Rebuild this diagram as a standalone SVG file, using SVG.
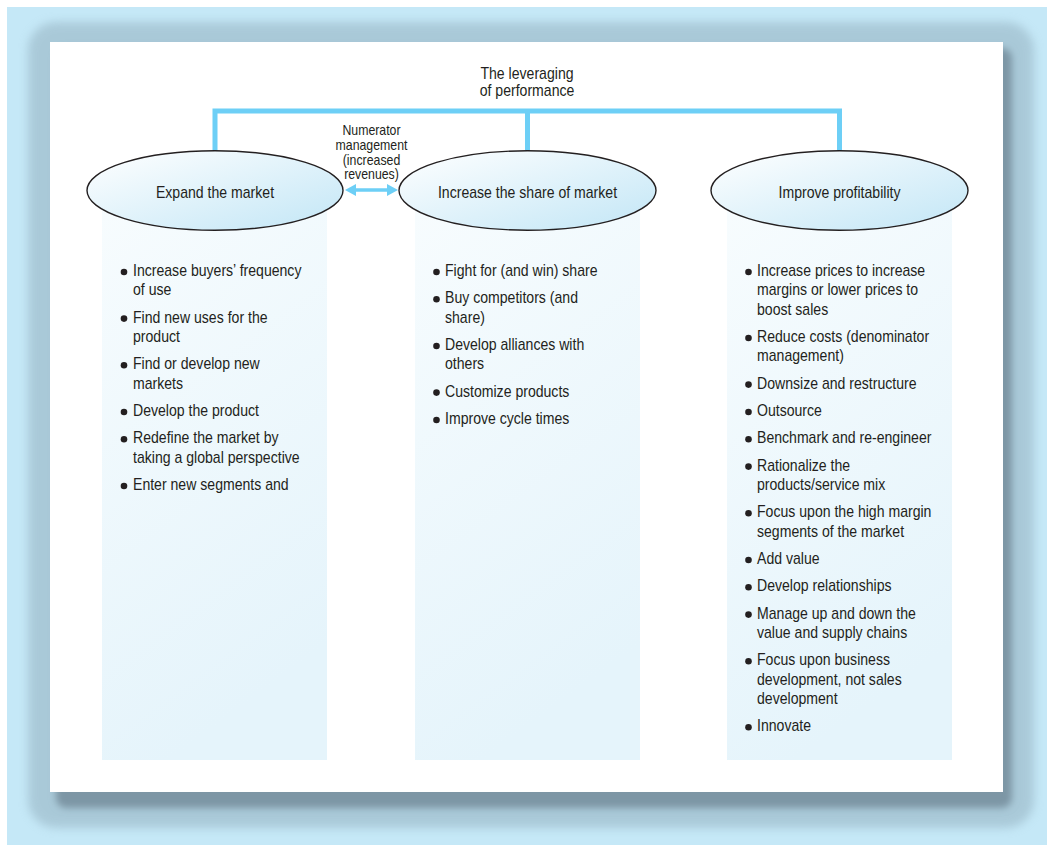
<svg xmlns="http://www.w3.org/2000/svg" width="1047" height="846" viewBox="0 0 1047 846">
<style>
text{font-family:"Liberation Sans",Arial,sans-serif;fill:#231f20;}
.t{font-size:16px;}
.c{text-anchor:middle;}
.s{font-size:14px;}
.node ellipse{fill:url(#eg);stroke:#231f20;stroke-width:1.4;}
.col{fill:url(#cg);}
.b{fill:#231f20;}
.conn{fill:none;stroke:#6dcff6;stroke-width:5;}
</style>
<defs>
<linearGradient id="eg" x1="0" y1="0" x2="1" y2="1">
<stop offset="0" stop-color="#ffffff"/>
<stop offset="1" stop-color="#c2e6f6"/>
</linearGradient>
<linearGradient id="cg" x1="0" y1="0" x2="0.3" y2="1">
<stop offset="0" stop-color="#f7fcfe"/>
<stop offset="1" stop-color="#e5f4fb"/>
</linearGradient>
<filter id="sh" x="-0.1" y="-0.1" width="1.2" height="1.2">
<feGaussianBlur stdDeviation="5"/>
</filter>
<filter id="sh2" x="-0.1" y="-0.1" width="1.2" height="1.2">
<feGaussianBlur stdDeviation="3.5"/>
</filter>
</defs>
<rect x="0" y="0" width="1047" height="846" fill="#ffffff"/>
<rect x="7" y="7" width="1040" height="838" fill="#c5e8f7"/>
<rect x="28" y="22" width="1006" height="806" rx="28" fill="#98b6c5" opacity="0.6" filter="url(#sh)"/>
<rect x="56" y="48" width="956" height="760" rx="10" fill="#7d96a5" filter="url(#sh2)"/>
<rect x="50" y="42" width="953" height="750" fill="#ffffff"/>

<rect class="col" x="102" y="210" width="225" height="550"/>
<rect class="col" x="415" y="210" width="225" height="550"/>
<rect class="col" x="727" y="210" width="225" height="550"/>

<g id="title">
<text class="t c" transform="translate(527,79) scale(0.88,1)">The leveraging</text>
<text class="t c" transform="translate(527,96) scale(0.88,1)">of performance</text>
</g>

<g id="connectors">
<path class="conn" d="M215,151 V111 H839.5 V151 M527.5,111 V151"/>
<path fill="#6dcff6" d="M345,190 L356,184 L356,188.3 L387,188.3 L387,184 L398,190 L387,196 L387,191.7 L356,191.7 L356,196 Z"/>
<g id="numerator-label">
<text class="s c" transform="translate(371.5,135) scale(0.88,1)">Numerator</text>
<text class="s c" transform="translate(371.5,150) scale(0.88,1)">management</text>
<text class="s c" transform="translate(371.5,164.5) scale(0.88,1)">(increased</text>
<text class="s c" transform="translate(371.5,179) scale(0.88,1)">revenues)</text>
</g>
</g>

<g id="node-expand" class="node">
<ellipse cx="215" cy="190.5" rx="128" ry="39.7"/>
<text class="t c" transform="translate(215,197.5) scale(0.88,1)">Expand the market</text>
</g>
<g id="node-share" class="node">
<ellipse cx="527.5" cy="190.5" rx="128.5" ry="39.7"/>
<text class="t c" transform="translate(527.5,197.5) scale(0.88,1)">Increase the share of market</text>
</g>
<g id="node-profit" class="node">
<ellipse cx="839.5" cy="190.5" rx="128.5" ry="39.7"/>
<text class="t c" transform="translate(839.5,197.5) scale(0.88,1)">Improve profitability</text>
</g>

<g id="list-expand">
<circle class="b" cx="124" cy="272" r="3.3"/>
<text class="t" transform="translate(133,276) scale(0.88,1)">Increase buyers’ frequency</text>
<text class="t" transform="translate(133,295.3) scale(0.88,1)">of use</text>
<circle class="b" cx="124" cy="318.6" r="3.3"/>
<text class="t" transform="translate(133,322.6) scale(0.88,1)">Find new uses for the</text>
<text class="t" transform="translate(133,342) scale(0.88,1)">product</text>
<circle class="b" cx="124" cy="365.3" r="3.3"/>
<text class="t" transform="translate(133,369.3) scale(0.88,1)">Find or develop new</text>
<text class="t" transform="translate(133,388.6) scale(0.88,1)">markets</text>
<circle class="b" cx="124" cy="412" r="3.3"/>
<text class="t" transform="translate(133,416) scale(0.88,1)">Develop the product</text>
<circle class="b" cx="124" cy="439.3" r="3.3"/>
<text class="t" transform="translate(133,443.3) scale(0.88,1)">Redefine the market by</text>
<text class="t" transform="translate(133,462.6) scale(0.88,1)">taking a global perspective</text>
<circle class="b" cx="124" cy="486" r="3.3"/>
<text class="t" transform="translate(133,490) scale(0.88,1)">Enter new segments and</text>
</g>

<g id="list-share">
<circle class="b" cx="436.5" cy="272" r="3.3"/>
<text class="t" transform="translate(445,276) scale(0.88,1)">Fight for (and win) share</text>
<circle class="b" cx="436.5" cy="299.3" r="3.3"/>
<text class="t" transform="translate(445,303.3) scale(0.88,1)">Buy competitors (and</text>
<text class="t" transform="translate(445,322.6) scale(0.88,1)">share)</text>
<circle class="b" cx="436.5" cy="346" r="3.3"/>
<text class="t" transform="translate(445,350) scale(0.88,1)">Develop alliances with</text>
<text class="t" transform="translate(445,369.3) scale(0.88,1)">others</text>
<circle class="b" cx="436.5" cy="392.6" r="3.3"/>
<text class="t" transform="translate(445,396.6) scale(0.88,1)">Customize products</text>
<circle class="b" cx="436.5" cy="420" r="3.3"/>
<text class="t" transform="translate(445,424) scale(0.88,1)">Improve cycle times</text>
</g>

<g id="list-profit">
<circle class="b" cx="748.5" cy="272" r="3.3"/>
<text class="t" transform="translate(757,276) scale(0.88,1)">Increase prices to increase</text>
<text class="t" transform="translate(757,295.3) scale(0.88,1)">margins or lower prices to</text>
<text class="t" transform="translate(757,314.6) scale(0.88,1)">boost sales</text>
<circle class="b" cx="748.5" cy="338" r="3.3"/>
<text class="t" transform="translate(757,342) scale(0.88,1)">Reduce costs (denominator</text>
<text class="t" transform="translate(757,361.3) scale(0.88,1)">management)</text>
<circle class="b" cx="748.5" cy="384.6" r="3.3"/>
<text class="t" transform="translate(757,388.6) scale(0.88,1)">Downsize and restructure</text>
<circle class="b" cx="748.5" cy="412" r="3.3"/>
<text class="t" transform="translate(757,416) scale(0.88,1)">Outsource</text>
<circle class="b" cx="748.5" cy="439.3" r="3.3"/>
<text class="t" transform="translate(757,443.3) scale(0.88,1)">Benchmark and re-engineer</text>
<circle class="b" cx="748.5" cy="466.6" r="3.3"/>
<text class="t" transform="translate(757,470.6) scale(0.88,1)">Rationalize the</text>
<text class="t" transform="translate(757,490) scale(0.88,1)">products/service mix</text>
<circle class="b" cx="748.5" cy="513.3" r="3.3"/>
<text class="t" transform="translate(757,517.3) scale(0.88,1)">Focus upon the high margin</text>
<text class="t" transform="translate(757,536.6) scale(0.88,1)">segments of the market</text>
<circle class="b" cx="748.5" cy="560" r="3.3"/>
<text class="t" transform="translate(757,564) scale(0.88,1)">Add value</text>
<circle class="b" cx="748.5" cy="587.3" r="3.3"/>
<text class="t" transform="translate(757,591.3) scale(0.88,1)">Develop relationships</text>
<circle class="b" cx="748.5" cy="614.6" r="3.3"/>
<text class="t" transform="translate(757,618.6) scale(0.88,1)">Manage up and down the</text>
<text class="t" transform="translate(757,638) scale(0.88,1)">value and supply chains</text>
<circle class="b" cx="748.5" cy="661.3" r="3.3"/>
<text class="t" transform="translate(757,665.3) scale(0.88,1)">Focus upon business</text>
<text class="t" transform="translate(757,684.6) scale(0.88,1)">development, not sales</text>
<text class="t" transform="translate(757,704) scale(0.88,1)">development</text>
<circle class="b" cx="748.5" cy="727.3" r="3.3"/>
<text class="t" transform="translate(757,731.3) scale(0.88,1)">Innovate</text>
</g>
</svg>
